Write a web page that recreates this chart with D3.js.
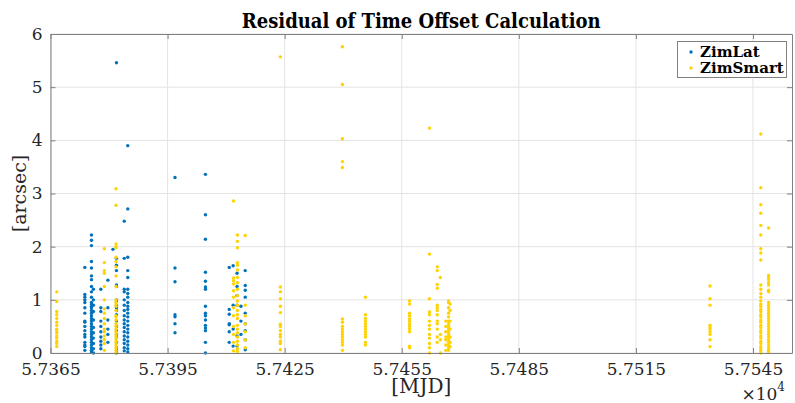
<!DOCTYPE html>
<html><head><meta charset="utf-8">
<script src="https://cdn.jsdelivr.net/npm/d3@7"></script>
<style>body{margin:0;background:#fff}svg{display:block}text{font-family:"DejaVu Serif",serif}</style>
</head><body><svg id="c" width="795" height="403"></svg>
<script>
// ---------- data ----------
const title = "Residual of Time Offset Calculation";
const xLabel = "[MJD]";
const yLabel = "[arcsec]";
const seriesNames = ["ZimLat", "ZimSmart"];
const xTicks = [57365, 57395, 57425, 57455, 57485, 57515, 57545];
const yTicks = [0, 1, 2, 3, 4, 5, 6];

// ZimLat: observation MJD of each group and residuals [arcsec]
const latMJD = [57373.8, 57375.5, 57376.0, 57377.9, 57379.7, 57381.0, 57381.9, 57383.9, 57384.8,
                57396.9, 57404.7, 57410.8, 57411.8, 57412.8, 57413.8, 57414.9];
const latRes = [
  [1.61, 1.1, 1.05, 1.0, 0.95, 0.85, 0.75, 0.6, 0.58, 0.5, 0.42, 0.35, 0.3, 0.2, 0.15, 0.12, 0.05],
  [2.22, 2.12, 2.02, 1.72, 1.6, 1.45, 1.38, 1.25, 1.15, 1.05, 0.95, 0.92, 0.88, 0.85, 0.8, 0.75, 0.7, 0.65, 0.6, 0.55, 0.5, 0.45, 0.4, 0.35, 0.3, 0.25, 0.2, 0.15, 0.1, 0.05, 0.02],
  [1.2, 1.0, 0.9, 0.78, 0.62, 0.48, 0.38, 0.28, 0.18, 0.08, 0.0],
  [1.2, 0.85, 0.78, 0.6, 0.5, 0.4, 0.3, 0.22, 0.15, 0.08],
  [1.37, 0.85, 0.62, 0.45, 0.35, 0.2],
  [1.95],
  [5.46, 1.78, 1.65, 1.55, 1.28, 1.25, 1.0, 0.98, 0.9, 0.85, 0.8, 0.72, 0.6, 0.5, 0.42, 0.35, 0.3, 0.2, 0.1, 0.05, 0.0],
  [2.48, 1.78, 1.2, 1.15, 1.0, 0.9, 0.8, 0.7, 0.62, 0.55, 0.48, 0.4, 0.32, 0.25, 0.18, 0.1, 0.04],
  [3.9, 2.71, 1.8, 1.55, 1.42, 1.2, 1.12, 1.05, 0.95, 0.88, 0.82, 0.75, 0.68, 0.6, 0.52, 0.45, 0.38, 0.3, 0.22, 0.15, 0.08, 0.02],
  [3.3, 1.6, 1.34, 0.72, 0.68, 0.55, 0.38],
  [3.36, 2.6, 2.14, 1.52, 1.35, 1.24, 1.2, 0.88, 0.75, 0.7, 0.62, 0.52, 0.47, 0.42, 0.2, 0.0],
  [1.61, 0.82, 0.73, 0.55, 0.53, 0.4, 0.2],
  [1.64, 0.9, 0.45, 0.13],
  [1.5, 1.25, 1.08, 0.9, 0.32, 0.13],
  [0.88, 0.6, 0.35],
  [1.55, 1.27, 1.18, 1.05, 0.75, 0.55, 0.42, 0.25, 0.06]
];

// ZimSmart
const smartMJD = [57366.6, 57378.8, 57381.8, 57411.9, 57412.9, 57414.9, 57423.9, 57439.8, 57445.7,
                  57457.0, 57462.1, 57464.1, 57464.9, 57466.3, 57467.0, 57467.4, 57534.0, 57547.0, 57549.0];
const smartRes = [
  [1.15, 0.97, 0.78, 0.72, 0.65, 0.58, 0.52, 0.45, 0.42, 0.38, 0.32, 0.28, 0.22, 0.18, 0.12],
  [1.96, 1.7, 1.55, 1.5, 1.25, 1.0, 0.83, 0.75, 0.65, 0.55, 0.45, 0.4, 0.32, 0.25, 0.18, 0.05],
  [3.09, 2.78, 2.05, 2.0, 1.98, 1.8, 1.72, 1.62, 1.45, 1.25, 1.0, 0.95, 0.92, 0.88, 0.8, 0.7, 0.68, 0.62, 0.55, 0.5, 0.45, 0.4, 0.35, 0.3, 0.25, 0.2, 0.15, 0.1, 0.05, 0.0],
  [2.86, 1.41, 1.36, 1.3, 1.17, 1.05, 0.85, 0.7, 0.5, 0.35, 0.2, 0.04],
  [2.22, 2.1, 1.98, 1.7, 1.65, 1.56, 1.42, 1.32, 1.2, 1.08, 0.98, 0.9, 0.8, 0.72, 0.65, 0.52, 0.45, 0.38, 0.3, 0.22, 0.15, 0.08, 0.03],
  [2.21, 0.9, 0.7, 0.55, 0.4, 0.25, 0.1],
  [5.57, 1.24, 1.15, 1.02, 0.88, 0.76, 0.54, 0.5, 0.42, 0.35, 0.3, 0.22, 0.18, 0.06],
  [5.76, 5.05, 4.03, 3.6, 3.49, 0.64, 0.58, 0.5, 0.45, 0.4, 0.35, 0.3, 0.25, 0.2, 0.15, 0.05],
  [1.05, 0.72, 0.65, 0.6, 0.55, 0.5, 0.45, 0.4, 0.35, 0.3, 0.2, 0.15],
  [0.98, 0.92, 0.75, 0.7, 0.64, 0.6, 0.55, 0.5, 0.45, 0.4, 0.13, 0.1],
  [4.23, 1.86, 1.02, 0.77, 0.72, 0.6, 0.52, 0.45, 0.35, 0.28, 0.18, 0.1, 0.0],
  [1.62, 1.55, 1.29, 1.22, 0.9, 0.85, 0.8, 0.72, 0.6, 0.55, 0.45, 0.3, 0.2],
  [1.42, 0.35, 0.25, 0.0],
  [0.6, 0.5, 0.4, 0.3, 0.25, 0.15, 0.05],
  [0.98, 0.95, 0.85, 0.75, 0.68, 0.6, 0.55, 0.5, 0.45, 0.4, 0.35, 0.3, 0.25, 0.2, 0.15, 0.1, 0.05],
  [0.92, 0.8, 0.6, 0.45, 0.3, 0.2, 0.12],
  [1.26, 1.02, 0.9, 0.52, 0.48, 0.45, 0.4, 0.35, 0.25, 0.12],
  [4.12, 3.11, 2.79, 2.63, 2.4, 2.22, 1.96, 1.88, 1.75, 1.28, 1.2, 1.12, 1.05, 0.98, 0.92, 0.88, 0.82, 0.78, 0.72, 0.68, 0.62, 0.58, 0.52, 0.48, 0.42, 0.38, 0.32, 0.28, 0.22, 0.18, 0.12, 0.08, 0.04, 0.0],
  [2.35, 1.46, 1.42, 1.38, 1.32, 1.28, 1.18, 1.15, 0.95, 0.9, 0.85, 0.8, 0.75, 0.7, 0.65, 0.6, 0.55, 0.5, 0.45, 0.4, 0.35, 0.3, 0.25, 0.2, 0.15, 0.1, 0.05, 0.02]
];

// ---------- drawing ----------
const colors = ["#0072BD", "#FFD200"];
const m = {l: 50.5, r: 792, t: 34, b: 353};
const svg = d3.select("#c");
const x = d3.scaleLinear().domain([57365, 57555]).range([m.l, m.r]);
const y = d3.scaleLinear().domain([0, 6]).range([m.b, m.t]);

const flat = (mjd, res) => mjd.flatMap((d, i) => res[i].map(r => [d, r]));
const latPts = flat(latMJD, latRes);
const smartPts = flat(smartMJD, smartRes);

// grid
const g = svg.append("g");
g.selectAll(".gx").data(xTicks).join("line")
  .attr("x1", d => x(d)).attr("x2", d => x(d)).attr("y1", m.t).attr("y2", m.b)
  .attr("stroke", "#e3e3e3").attr("stroke-width", 1);
g.selectAll(".gy").data(yTicks).join("line")
  .attr("y1", d => y(d)).attr("y2", d => y(d)).attr("x1", m.l).attr("x2", m.r)
  .attr("stroke", "#e3e3e3").attr("stroke-width", 1);

// points
const pts = svg.append("g");
pts.selectAll(".lat").data(latPts).join("circle")
  .attr("cx", d => x(d[0])).attr("cy", d => y(d[1])).attr("r", 1.7).attr("fill", colors[0]);
pts.selectAll(".sm").data(smartPts).join("circle")
  .attr("cx", d => x(d[0])).attr("cy", d => y(d[1])).attr("r", 1.7).attr("fill", colors[1]);

// axes
const axCol = "#808080";
const fmt = d => (d / 1e4).toFixed(4);
const xb = svg.append("g").attr("transform", `translate(0,${m.b})`)
  .call(d3.axisBottom(x).tickValues(xTicks).tickFormat(fmt).tickSizeInner(-5).tickSizeOuter(0).tickPadding(10));
const xt = svg.append("g").attr("transform", `translate(0,${m.t})`)
  .call(d3.axisTop(x).tickValues(xTicks).tickFormat("").tickSizeInner(-5).tickSizeOuter(0));
const yl = svg.append("g").attr("transform", `translate(${m.l},0)`)
  .call(d3.axisLeft(y).tickValues(yTicks).tickFormat(d3.format("d")).tickSizeInner(-5).tickSizeOuter(0).tickPadding(8));
const yr = svg.append("g").attr("transform", `translate(${m.r},0)`)
  .call(d3.axisRight(y).tickValues(yTicks).tickFormat("").tickSizeInner(-5).tickSizeOuter(0));
[xb, xt, yl, yr].forEach(a => {
  a.select(".domain").attr("stroke", axCol);
  a.selectAll(".tick line").attr("stroke", axCol);
  a.selectAll("text").attr("fill", "#262626").style("font-size", "17px").style("font-family", "DejaVu Serif");
});

// labels
svg.append("text").attr("x", (m.l + m.r) / 2).attr("y", 27.5).attr("text-anchor", "middle")
  .style("font-family", "'DejaVu Serif Condensed','DejaVu Serif',serif")
  .style("font-size", "20px").style("font-weight", "bold").attr("fill", "#000").text(title);
svg.append("text").attr("x", (m.l + m.r) / 2).attr("y", 393).attr("text-anchor", "middle")
  .style("font-size", "20px").attr("fill", "#262626").text(xLabel);
svg.append("text").attr("transform", `translate(26,${(m.t + m.b) / 2}) rotate(-90)`).attr("text-anchor", "middle")
  .style("font-size", "19px").attr("fill", "#262626").text(yLabel);
const mult = svg.append("text").attr("x", 785).attr("y", 400).attr("text-anchor", "end")
  .style("font-size", "17px").attr("fill", "#262626");
mult.append("tspan").text("×10");
mult.append("tspan").attr("dy", -9).style("font-size", "12px").text("4");

// legend
const lg = svg.append("g");
lg.append("rect").attr("x", 677.5).attr("y", 41.5).attr("width", 109).attr("height", 36)
  .attr("fill", "#fff").attr("stroke", "#808080");
seriesNames.forEach((n, i) => {
  lg.append("circle").attr("cx", 691).attr("cy", 52 + i * 16).attr("r", 1.7).attr("fill", colors[i]);
  lg.append("text").attr("x", 700).attr("y", 57 + i * 15.5).style("font-size", "15px")
    .style("font-weight", "bold").attr("fill", "#000").text(n);
});
</script></body></html>
